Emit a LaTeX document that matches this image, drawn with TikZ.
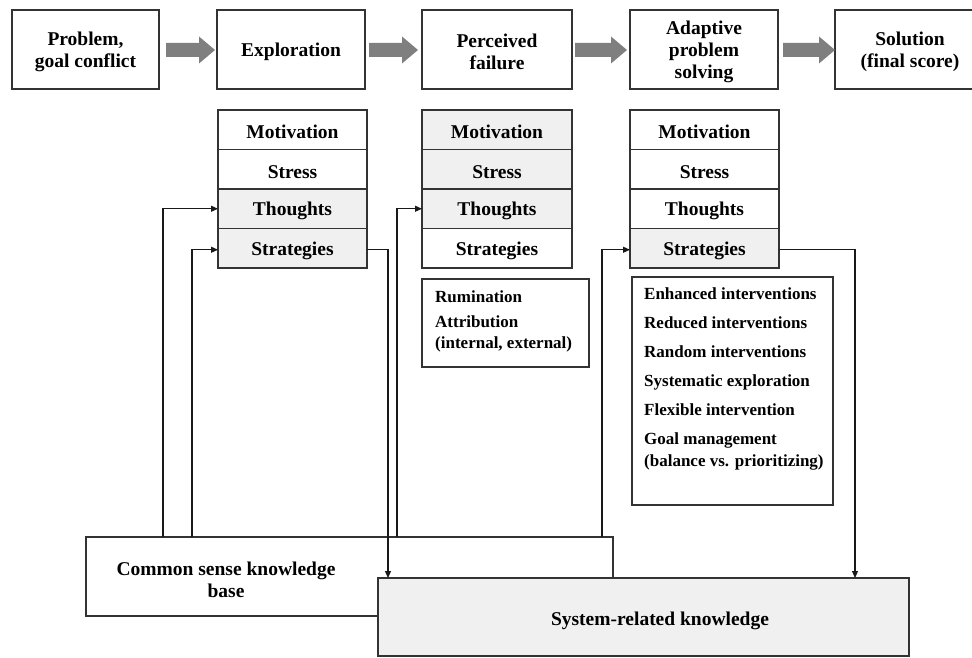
\documentclass[tikz,border=0pt]{standalone}
\usepackage{fontspec}
\setmainfont{Liberation Serif}
\usetikzlibrary{arrows.meta,calc}
\definecolor{shade}{HTML}{F0F0F0}
\definecolor{agray}{HTML}{7F7F7F}
\newcommand{\blockarr}[2]{\fill[agray] (#1,43) -- ({#2-16},43) -- ({#2-16},36.5) -- (#2,50) -- ({#2-16},63.5) -- ({#2-16},57) -- (#1,57) -- cycle;}
\newcommand{\tstrut}{\rule{0pt}{18pt}}
\begin{document}
\begin{tikzpicture}[x=1pt,y=-1pt,
 box/.style={draw=black!80, line width=1.3pt, rectangle, inner sep=0pt, outer sep=0pt, align=center, font=\fontsize{19.5}{22}\selectfont\bfseries},
 cell/.style={box, minimum height=39.5pt},
 gr/.style={fill=shade},
 txt/.style={inner sep=0pt, align=center, font=\fontsize{19.5}{22}\selectfont\bfseries},
 conn/.style={draw=black!90, line width=1.2pt, -{Triangle[length=7pt,width=6pt]}},
 listtxt/.style={anchor=north west, inner sep=0pt, align=left, font=\fontsize{17}{22}\selectfont\bfseries}]
\useasboundingbox (0,0) rectangle (972,658);

% top row
\node[box, minimum width=147pt, minimum height=79pt] (p1) at (85.5,49.5) {\tstrut Problem,\\goal conflict};
\node[box, minimum width=148pt, minimum height=79pt] (p2) at (291,49.5) {\tstrut Exploration};
\node[box, minimum width=150pt, minimum height=79pt] (p3) at (497,49.5) {\tstrut Perceived\\failure};
\node[box, minimum width=148pt, minimum height=79pt] (p4) at (704,49.5) {\tstrut Adaptive\\problem\\solving};
\node[box, minimum width=150pt, minimum height=79pt] (p5) at (910,49.5) {\tstrut Solution\\(final score)};

\blockarr{166}{215}
\blockarr{369}{418}
\blockarr{575}{627}
\blockarr{783}{835}

% Exploration stack
\node[cell, minimum width=149pt] (ex1) at (292.5,129.75) {\tstrut Motivation};
\node[cell, minimum width=149pt] (ex2) at (292.5,169.25) {\tstrut Stress};
\node[cell, gr, minimum width=149pt] (ex3) at (292.5,208.75) {\tstrut Thoughts};
\node[cell, gr, minimum width=149pt] (ex4) at (292.5,248.25) {\tstrut Strategies};

% Perceived failure stack
\node[cell, gr, minimum width=150pt] (pf1) at (497,129.75) {\tstrut Motivation};
\node[cell, gr, minimum width=150pt] (pf2) at (497,169.25) {\tstrut Stress};
\node[cell, gr, minimum width=150pt] (pf3) at (497,208.75) {\tstrut Thoughts};
\node[cell, minimum width=150pt] (pf4) at (497,248.25) {\tstrut Strategies};

% Adaptive stack
\node[cell, minimum width=149pt] (ad1) at (704.5,129.75) {\tstrut Motivation};
\node[cell, minimum width=149pt] (ad2) at (704.5,169.25) {\tstrut Stress};
\node[cell, minimum width=149pt] (ad3) at (704.5,208.75) {\tstrut Thoughts};
\node[cell, gr, minimum width=149pt] (ad4) at (704.5,248.25) {\tstrut Strategies};

% lists
\node[box, minimum width=167pt, minimum height=88pt] (rum) at (505.5,323) {};
\node[listtxt, font=\fontsize{17}{21}\selectfont\bfseries] (rumt) at (435,291) {Rumination\\[4pt]Attribution\\(internal, external)};

\node[box, minimum width=201pt, minimum height=228pt] (enh) at (732.5,391) {};
\node[listtxt] (enht) at (644,288) {Enhanced interventions\\[7pt]Reduced interventions\\[7pt]Random interventions\\[7pt]Systematic exploration\\[7pt]Flexible intervention\\[7pt]Goal management\\(balance vs. prioritizing)};

% knowledge bases
\node[box, minimum width=527pt, minimum height=79pt] (cs) at (349.5,576.5) {};
\node[txt] (cst) at (226,580) {Common sense knowledge\\base};
\node[box, gr, minimum width=531pt, minimum height=78pt] (sys) at (643.5,617) {};
\node[txt] (syst) at (660,621) {System-related knowledge};

% connectors
\draw[conn] ([xshift=77pt]cs.north west) |- (ex3.west);
\draw[conn] ([xshift=106pt]cs.north west) |- ([yshift=-1.5pt]ex4.west);
\draw[conn] ([yshift=-1.5pt]ex4.east) -| ([xshift=10pt]sys.north west);
\draw[conn] ([xshift=311pt]cs.north west) |- (pf3.west);
\draw[conn] ([xshift=516pt]cs.north west) |- ([yshift=-1.5pt]ad4.west);
\draw[conn] ([yshift=-1.5pt]ad4.east) -| ([xshift=477pt]sys.north west);
\end{tikzpicture}
\end{document}
